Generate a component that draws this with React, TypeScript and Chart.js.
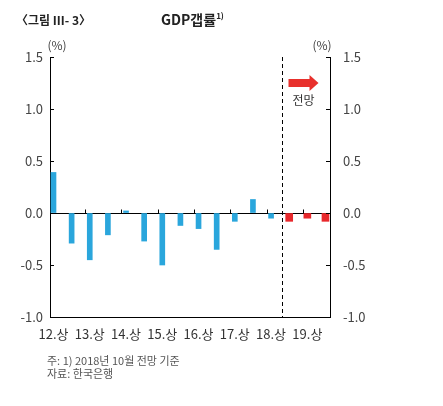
import React, { useEffect, useRef } from "react";
import { Chart, registerables } from "chart.js";

Chart.register(...registerables);

const categories = [
  "12.상", "12.하", "13.상", "13.하", "14.상", "14.하", "15.상", "15.하",
  "16.상", "16.하", "17.상", "17.하", "18.상", "18.하", "19.상", "19.하",
];
const actualValues = [0.39, -0.29, -0.45, -0.21, 0.02, -0.27, -0.5, -0.12, -0.15, -0.35, -0.08, 0.13, -0.05];
const forecastValues = [-0.08, -0.05, -0.08];
const yTicks = [-1.0, -0.5, 0.0, 0.5, 1.0, 1.5];
const labelIndices = [0, 2, 4, 6, 8, 10, 12, 14];
const zeroTickValues = [1.75, 3.75, 5.75, 7.75, 9.75, 11.75, 13.75];
const forecastStart = 12.6;

const FONT = "'Noto Sans CJK KR', 'Noto Sans', sans-serif";

const overlayPlugin = {
  id: "overlay",
  afterDatasetsDraw(chart: any) {
    const { ctx, chartArea, scales } = chart;
    const x = scales.x;
    const y = scales.y;
    ctx.save();
    ctx.strokeStyle = "#000";
    ctx.lineWidth = 1;
    yTicks.forEach((v) => {
      const py = Math.round(y.getPixelForValue(v)) + 0.5;
      ctx.beginPath();
      ctx.moveTo(chartArea.left, py);
      ctx.lineTo(chartArea.left + 4, py);
      ctx.moveTo(chartArea.right, py);
      ctx.lineTo(chartArea.right - 4, py);
      ctx.stroke();
    });
    const y0 = Math.round(y.getPixelForValue(0)) + 0.5;
    zeroTickValues.forEach((v) => {
      const px = Math.round(x.getPixelForValue(v)) + 0.5;
      ctx.beginPath();
      ctx.moveTo(px, y0);
      ctx.lineTo(px, y0 - 4);
      ctx.stroke();
    });
    const dx = Math.round(x.getPixelForValue(forecastStart)) + 0.5;
    ctx.setLineDash([4, 3]);
    ctx.beginPath();
    ctx.moveTo(dx, chartArea.top);
    ctx.lineTo(dx, chartArea.bottom);
    ctx.stroke();
    ctx.setLineDash([]);
    const ax = dx + 6;
    const ay = chartArea.top + 26;
    ctx.fillStyle = "#e8302c";
    ctx.beginPath();
    ctx.moveTo(ax, ay - 4);
    ctx.lineTo(ax + 21, ay - 4);
    ctx.lineTo(ax + 21, ay - 8);
    ctx.lineTo(ax + 30, ay);
    ctx.lineTo(ax + 21, ay + 8);
    ctx.lineTo(ax + 21, ay + 4);
    ctx.lineTo(ax, ay + 4);
    ctx.closePath();
    ctx.fill();
    ctx.fillStyle = "#333";
    ctx.font = `12px ${FONT}`;
    ctx.textAlign = "center";
    ctx.textBaseline = "middle";
    ctx.fillText("전망", ax + 15, ay + 17);
    ctx.fillStyle = "#444";
    ctx.font = `12px ${FONT}`;
    ctx.fillText("(%)", chartArea.left + 7, chartArea.top - 12);
    ctx.fillText("(%)", chartArea.right - 8, chartArea.top - 12);
    ctx.restore();
  },
};

export default function App() {
  const ref = useRef<HTMLCanvasElement>(null);

  useEffect(() => {
    if (!ref.current) return;
    const chart = new Chart(ref.current, {
      type: "bar",
      data: {
        datasets: [
          {
            data: actualValues.map((v, i) => ({ x: i, y: v })),
            backgroundColor: "#2aa6dc",
            barThickness: 5,
            grouped: false,
          } as any,
          {
            data: forecastValues.map((v, i) => ({ x: actualValues.length + i, y: v })),
            backgroundColor: "#e8282c",
            barThickness: 7,
            grouped: false,
          } as any,
        ],
      },
      options: {
        animation: false,
        responsive: false,
        layout: { padding: { top: 57, left: 0, right: 0, bottom: 0 } },
        plugins: { legend: { display: false }, tooltip: { enabled: false } },
        scales: {
          x: {
            type: "linear",
            offset: false,
            min: -0.193,
            max: 15.25,
            grid: { display: false, drawTicks: false },
            border: { display: true, color: "#000", width: 1 },
            afterBuildTicks: (scale: any) => {
              scale.ticks = labelIndices.map((v) => ({ value: v }));
            },
            afterFit: (scale: any) => {
              scale.height = 89;
            },
            ticks: {
              padding: 9,
              autoSkip: false,
              maxRotation: 0,
              color: "#333",
              font: { family: FONT, size: 13 },
              callback: (v: any) => categories[Number(v)] ?? "",
            },
          },
          y: {
            position: "left",
            min: -1,
            max: 1.5,
            afterBuildTicks: (scale: any) => {
              scale.ticks = yTicks.map((v) => ({ value: v }));
            },
            afterFit: (scale: any) => {
              scale.width = 50;
            },
            grid: {
              drawTicks: false,
              color: (c: any) => (c.tick && c.tick.value === 0 ? "#000" : "rgba(0,0,0,0)"),
            },
            border: { display: true, color: "#000", width: 1 },
            ticks: {
              padding: 7,
              color: "#444",
              font: { family: FONT, size: 13 },
              callback: (v: any) => Number(v).toFixed(1),
            },
          },
          y2: {
            position: "right",
            min: -1,
            max: 1.5,
            afterBuildTicks: (scale: any) => {
              scale.ticks = yTicks.map((v) => ({ value: v }));
            },
            afterFit: (scale: any) => {
              scale.width = 113;
            },
            grid: { display: false, drawTicks: false },
            border: { display: true, color: "#000", width: 1 },
            ticks: {
              padding: 13,
              color: "#444",
              font: { family: FONT, size: 13 },
              callback: (v: any) => Number(v).toFixed(1),
            },
          },
        },
      },
      plugins: [overlayPlugin],
    });
    return () => chart.destroy();
  }, []);

  return (
    <div style={{ position: "absolute", left: 0, top: 0, width: 443, height: 406, background: "#fff", fontFamily: FONT }}>
      <canvas ref={ref} width={443} height={406} style={{ position: "absolute", left: 0, top: 0 }} />
      <div style={{ position: "absolute", left: 16, top: 11, fontSize: 12, fontWeight: 700, color: "#222", whiteSpace: "nowrap" }}>
        〈그림 Ⅲ- 3〉
      </div>
      <div style={{ position: "absolute", left: 161, top: 9, fontSize: 14, fontWeight: 700, color: "#222", whiteSpace: "nowrap" }}>
        GDP갭률<sup style={{ fontSize: 8 }}>1)</sup>
      </div>
      <div style={{ position: "absolute", left: 47, top: 354, fontSize: 11, color: "#555", whiteSpace: "nowrap", lineHeight: "13px" }}>
        주: 1) 2018년 10월 전망 기준
        <br />
        자료: 한국은행
      </div>
    </div>
  );
}
